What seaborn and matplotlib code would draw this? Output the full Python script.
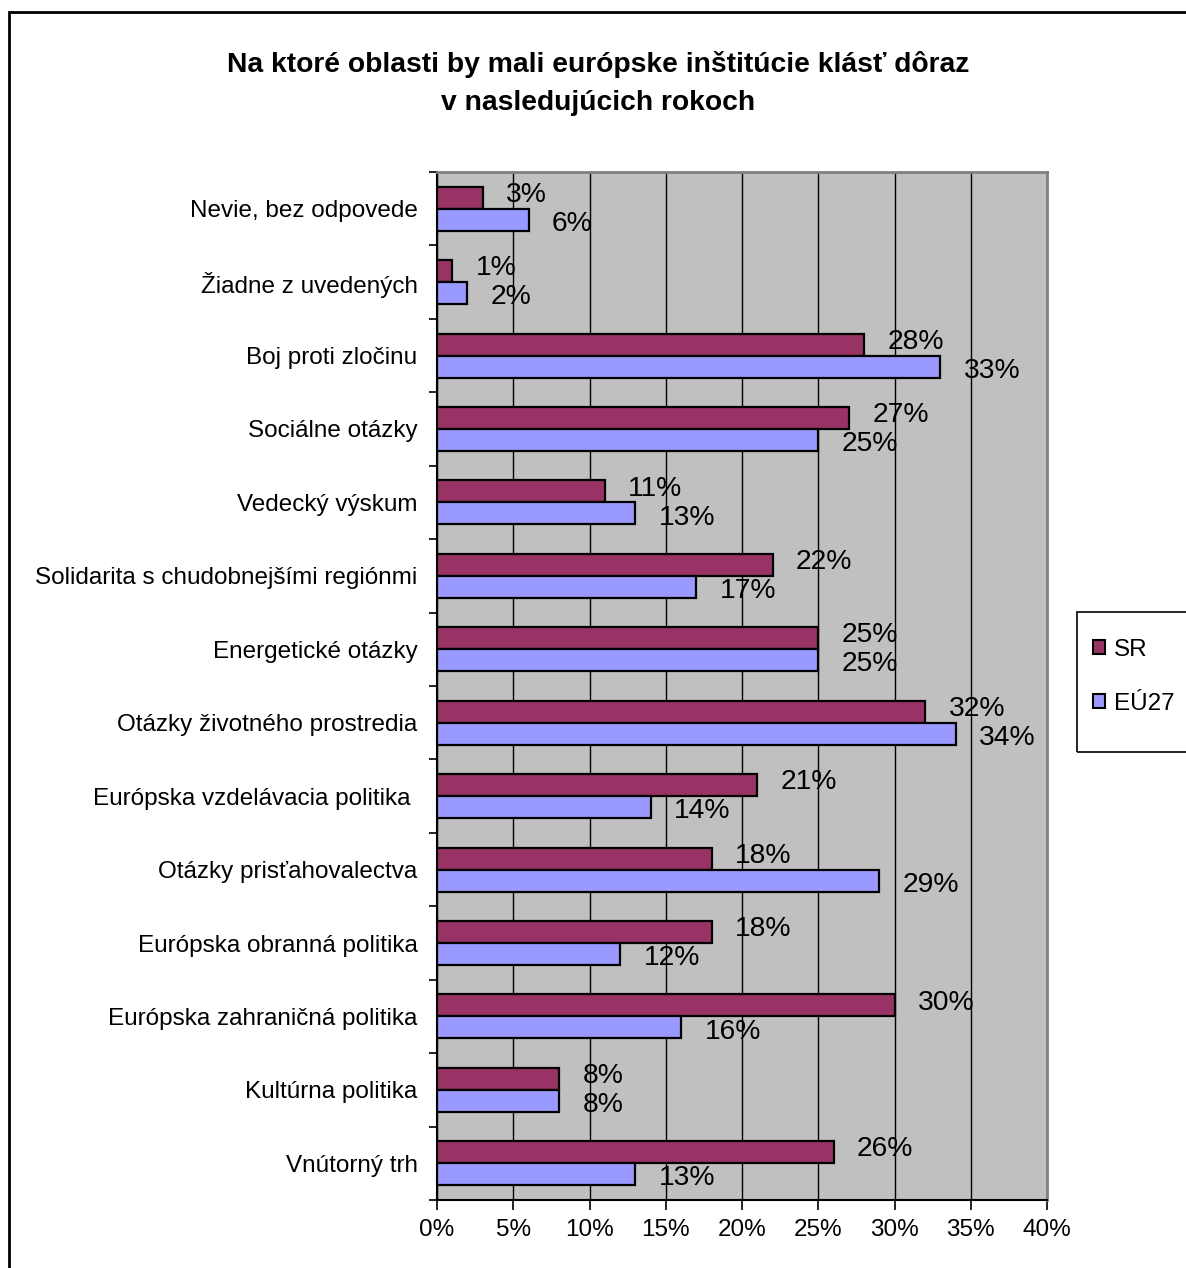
import matplotlib
matplotlib.use("Agg")
import matplotlib.pyplot as plt
from matplotlib.patches import Patch, Rectangle
from matplotlib.ticker import MultipleLocator, FuncFormatter
import seaborn as sns
import pandas as pd
import numpy as np

plt.rcParams['font.family'] = ['Liberation Sans', 'DejaVu Sans']

categories = [
    "Nevie, bez odpovede",
    "Žiadne z uvedených",
    "Boj proti zločinu",
    "Sociálne otázky",
    "Vedecký výskum",
    "Solidarita s chudobnejšími regiónmi",
    "Energetické otázky",
    "Otázky životného prostredia",
    "Európska vzdelávacia politika ",
    "Otázky prisťahovalectva",
    "Európska obranná politika",
    "Európska zahraničná politika",
    "Kultúrna politika",
    "Vnútorný trh",
]
sr_values = [3, 1, 28, 27, 11, 22, 25, 32, 21, 18, 18, 30, 8, 26]
eu_values = [6, 2, 33, 25, 13, 17, 25, 34, 14, 29, 12, 16, 8, 13]
series_names = ["SR", "EÚ27"]
series_colors = ["#993366", "#9999FF"]
title = "Na ktoré oblasti by mali európske inštitúcie klásť dôraz\nv nasledujúcich rokoch"

n = len(categories)
df = pd.DataFrame({
    "category": categories * 2,
    "value": sr_values + eu_values,
    "series": [series_names[0]] * n + [series_names[1]] * n,
})

fig = plt.figure(figsize=(11.86, 12.68), dpi=100)
ax = fig.add_axes([437/1186, 1 - 1200/1268, 610/1186, 1028/1268])
ax.set_facecolor("#C0C0C0")

sns.barplot(data=df, y="category", x="value", hue="series", orient="h",
            order=categories, hue_order=series_names,
            palette=series_colors, saturation=1, width=0.6, edgecolor="black",
            linewidth=1.6, legend=False, ax=ax, zorder=3)

ax.set_xlim(0, 40)
ax.set_ylim(n - 0.5, -0.5)
ax.xaxis.set_major_locator(MultipleLocator(5))
ax.xaxis.set_major_formatter(FuncFormatter(lambda v, p: f"{v:.0f}%"))
ax.grid(axis="x", color="black", linewidth=1.0, zorder=1)
ax.set_axisbelow(True)
ax.set_xlabel("")
ax.set_ylabel("")

ax.set_yticks(range(n))
ax.set_yticklabels(categories)
ax.set_yticks(np.arange(-0.5, n, 1.0), minor=True)
ax.tick_params(axis="y", which="major", length=0, pad=14, labelsize=17.5)
ax.tick_params(axis="y", which="minor", length=6, width=1.2, color="black")
ax.tick_params(axis="x", which="major", length=7, width=1.2, pad=7, labelsize=17.5)

for side in ["left", "bottom"]:
    ax.spines[side].set_color("black")
    ax.spines[side].set_linewidth(1.5)
for side in ["top", "right"]:
    ax.spines[side].set_color("#808080")
    ax.spines[side].set_linewidth(2)

# value labels: SR slightly above, EU slightly below
for cont, dy in zip(ax.containers, [2, -3]):
    for bar in cont:
        w = bar.get_width()
        ax.annotate(f"{w:.0f}%", xy=(w, bar.get_y() + bar.get_height() / 2),
                    xytext=(17, dy), textcoords="offset points",
                    ha="left", va="center", fontsize=20.3, color="black",
                    zorder=5)

fig.text(0.504, 1 - 83/1268, title, ha="center", va="center",
         fontsize=20.3, fontweight="bold", linespacing=1.6)

# legend
handles = [Patch(facecolor=c, edgecolor="black", linewidth=1.5) for c in series_colors]
leg = fig.legend(handles, series_names, loc="upper left",
                 bbox_to_anchor=(1093/1186, 1 - 639/1268),
                 fontsize=17.5, frameon=False,
                 handlelength=0.5, handleheight=0.5, handletextpad=0.35,
                 labelspacing=1.3, borderpad=0, borderaxespad=0)
fig.patches.append(Rectangle((1077/1186, 1 - 752/1268), 0.2, 140/1268,
                             transform=fig.transFigure, fill=False,
                             edgecolor="black", linewidth=1.2))

fig.patches.append(Rectangle((9/1186, -0.05), 1.2, 1 - 12/1268 + 0.05,
                             transform=fig.transFigure, fill=False,
                             edgecolor="black", linewidth=2))

fig.savefig("out.png", dpi=100)
